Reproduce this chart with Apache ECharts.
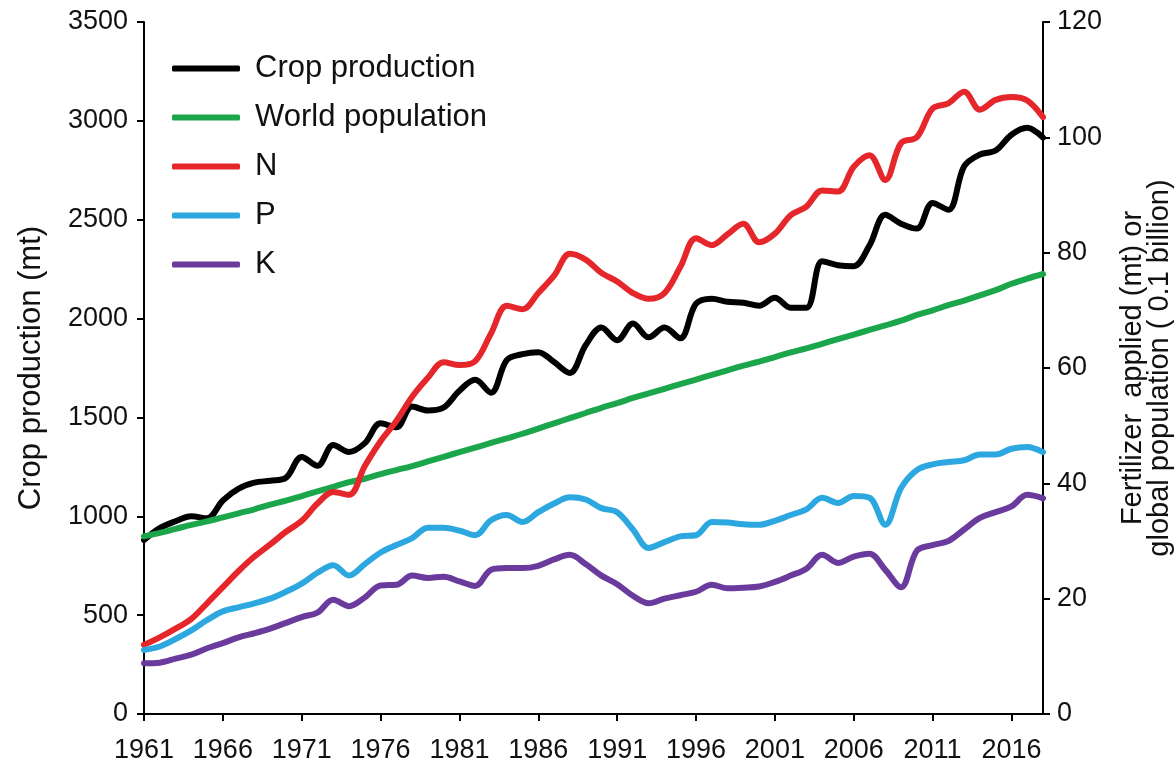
<!DOCTYPE html>
<html>
<head>
<meta charset="utf-8">
<script src="https://cdn.jsdelivr.net/npm/echarts@6/dist/echarts.min.js"></script>
<style>
  html, body { margin: 0; padding: 0; background: #fff; overflow: hidden; width: 1175px; height: 764px; }
  #chart { width: 1175px; height: 764px; display: block; }
</style>
</head>
<body>
<div id="chart"></div>
<script>
// Years on the x axis (every fifth one is labelled)
const years = [
  '1961','1962','1963','1964','1965','1966','1967','1968','1969','1970',
  '1971','1972','1973','1974','1975','1976','1977','1978','1979','1980',
  '1981','1982','1983','1984','1985','1986','1987','1988','1989','1990',
  '1991','1992','1993','1994','1995','1996','1997','1998','1999','2000',
  '2001','2002','2003','2004','2005','2006','2007','2008','2009','2010',
  '2011','2012','2013','2014','2015','2016','2017','2018'
];

// Crop production, mt (left axis)
const cropProduction = [
  880, 940, 975, 1000, 990, 1080, 1140, 1170, 1180, 1195,
  1300, 1255, 1360, 1325, 1370, 1470, 1450, 1555, 1535, 1550,
  1635, 1690, 1625, 1790, 1820, 1830, 1780, 1725, 1865, 1955,
  1890, 1975, 1905, 1955, 1900, 2075, 2100, 2085, 2080, 2065,
  2105, 2055, 2055, 2290, 2270, 2265, 2370, 2525, 2480, 2455,
  2585, 2550, 2770, 2830, 2850, 2930, 2965, 2915
];

// World population, 0.1 billion (right axis)
const worldPopulation = [
  30.8, 31.4, 32.1, 32.8, 33.4, 34.1, 34.8, 35.5, 36.3, 37.0,
  37.8, 38.6, 39.4, 40.2, 40.8, 41.6, 42.3, 43.0, 43.8, 44.6,
  45.4, 46.2, 47.0, 47.8, 48.6, 49.5, 50.4, 51.3, 52.2, 53.1,
  53.9, 54.8, 55.6, 56.4, 57.2, 58.0, 58.8, 59.6, 60.4, 61.1,
  61.9, 62.7, 63.4, 64.2, 65.0, 65.8, 66.6, 67.4, 68.2, 69.2,
  70.0, 70.9, 71.7, 72.6, 73.5, 74.6, 75.5, 76.3
];

// Fertilizer applied, mt (right axis)
const nitrogen = [
  12.0, 13.3, 14.8, 16.5, 19.2, 22.0, 24.8, 27.3, 29.4, 31.6,
  33.5, 36.5, 38.5, 38.0, 43.0, 47.3, 50.8, 55.0, 58.3, 61.0,
  60.5, 61.2, 66.0, 70.8, 70.2, 73.0, 76.0, 79.8, 78.8, 76.5,
  75.0, 73.0, 72.0, 73.0, 77.5, 82.5, 81.3, 83.2, 85.0, 81.8,
  83.3, 86.5, 88.0, 90.8, 90.6, 94.9, 96.9, 92.6, 99.0, 100.0,
  105.0, 105.9, 107.9, 104.8, 106.5, 107.0, 106.4, 103.5
];
const phosphorus = [
  11.1, 11.7, 13.0, 14.5, 16.3, 17.8, 18.5, 19.2, 20.0, 21.2,
  22.6, 24.5, 25.8, 24.0, 26.0, 28.0, 29.3, 30.5, 32.3, 32.3,
  31.8, 31.0, 33.6, 34.5, 33.3, 35.0, 36.5, 37.6, 37.2, 35.7,
  35.0, 32.0, 28.8, 29.8, 30.8, 31.0, 33.3, 33.2, 32.9, 32.8,
  33.5, 34.5, 35.5, 37.5, 36.6, 37.8, 37.5, 32.8, 39.2, 42.3,
  43.3, 43.7, 44.0, 45.0, 45.0, 46.0, 46.3, 45.4
];
const potassium = [
  8.8, 8.9, 9.6, 10.3, 11.4, 12.3, 13.3, 14.0, 14.8, 15.8,
  16.8, 17.6, 19.8, 18.7, 20.2, 22.3, 22.4, 24.0, 23.6, 23.8,
  23.0, 22.2, 25.0, 25.3, 25.3, 25.7, 26.8, 27.6, 26.0, 24.0,
  22.5, 20.5, 19.2, 20.0, 20.6, 21.2, 22.4, 21.8, 21.9, 22.1,
  22.9, 24.0, 25.2, 27.6, 26.2, 27.3, 27.8, 25.0, 22.0, 28.3,
  29.3, 30.0, 32.0, 34.0, 35.0, 36.0, 38.0, 37.4
];

const FONT = '"Liberation Sans", Arial, Helvetica, sans-serif';

function lineSeries(name, data, color, axisIndex) {
  return {
    name: name,
    type: 'line',
    yAxisIndex: axisIndex,
    data: data,
    showSymbol: false,
    symbol: 'none',
    smooth: 0.35,
    color: color,
    lineStyle: { width: 6, color: color, cap: 'round', join: 'round' },
    emphasis: { disabled: true },
    animation: false
  };
}

const axisLineStyle = { show: true, lineStyle: { color: '#000', width: 2 } };
const tickStyle = { show: true, length: 7, lineStyle: { color: '#000', width: 2 } };
const plainNumber = v => String(v);

const chart = echarts.init(document.getElementById('chart'), null, { renderer: 'canvas', width: 1175, height: 764 });
chart.setOption({
  backgroundColor: '#fff',
  animation: false,
  textStyle: { fontFamily: FONT },
  grid: { left: 144, right: 132, top: 22, bottom: 50, containLabel: false, outerBoundsMode: 'none' },
  legend: {
    orient: 'vertical',
    left: 167,
    top: 48,
    itemWidth: 68,
    itemHeight: 6,
    itemGap: 18,
    icon: 'roundRect',
    textStyle: { fontFamily: FONT, fontSize: 31, color: '#111', padding: [0, 0, 0, 10] },
    data: ['Crop production', 'World population', 'N', 'P', 'K']
  },
  xAxis: {
    type: 'category',
    data: years,
    boundaryGap: false,
    axisLine: { show: true, onZero: false, lineStyle: { color: '#000', width: 2 } },
    axisTick: { show: true, interval: 4, length: 7, lineStyle: { color: '#000', width: 2 } },
    axisLabel: { interval: 4, margin: 23, fontSize: 27, color: '#111', fontFamily: FONT },
    splitLine: { show: false }
  },
  yAxis: [
    {
      type: 'value',
      position: 'left',
      min: 0, max: 3500, interval: 500,
      name: 'Crop production (mt)',
      nameLocation: 'middle',
      nameRotate: 90,
      nameGap: 97,
      nameTextStyle: { fontSize: 31, color: '#111', fontFamily: FONT },
      axisLine: axisLineStyle,
      axisTick: tickStyle,
      axisLabel: { margin: 16, fontSize: 27, color: '#111', fontFamily: FONT, formatter: plainNumber },
      splitLine: { show: false }
    },
    {
      type: 'value',
      position: 'right',
      min: 0, max: 120, interval: 20,
      name: 'Fertilizer  applied (mt) or\nglobal population ( 0.1 billion)',
      nameLocation: 'middle',
      nameRotate: 90,
      nameGap: 76,
      nameTextStyle: { fontSize: 29, lineHeight: 27, color: '#111', fontFamily: FONT, align: 'center' },
      axisLine: axisLineStyle,
      axisTick: tickStyle,
      axisLabel: { margin: 14, fontSize: 27, color: '#111', fontFamily: FONT, formatter: plainNumber },
      splitLine: { show: false }
    }
  ],
  series: [
    lineSeries('Crop production', cropProduction, '#000000', 0),
    lineSeries('World population', worldPopulation, '#1ca64c', 1),
    lineSeries('N', nitrogen, '#e5262a', 1),
    lineSeries('P', phosphorus, '#2ca7df', 1),
    lineSeries('K', potassium, '#6a3b9c', 1)
  ]
});
</script>
</body>
</html>
